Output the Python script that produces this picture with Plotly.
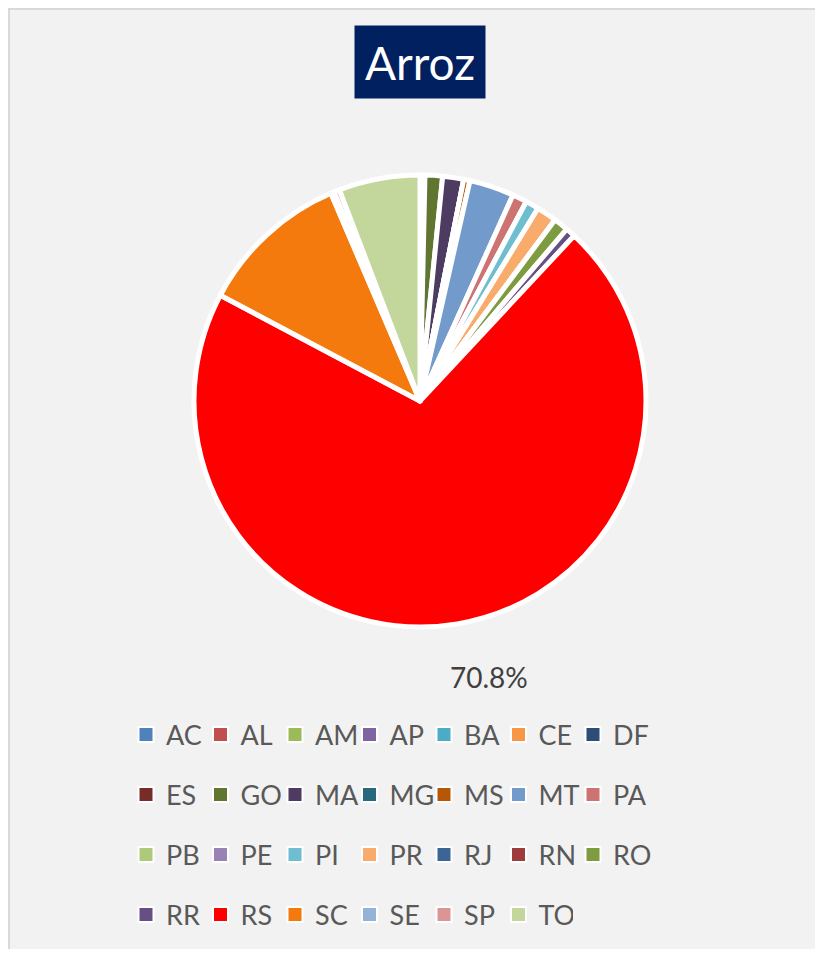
import plotly.graph_objects as go

states = ["AC", "AL", "AM", "AP", "BA", "CE", "DF",
          "ES", "GO", "MA", "MG", "MS", "MT", "PA",
          "PB", "PE", "PI", "PR", "RJ", "RN", "RO",
          "RR", "RS", "SC", "SE", "SP", "TO"]
shares = [0, 0, 0, 0, 0, 0, 0,
          0.35, 1.25, 1.5, 0, 0.45, 3.2, 1.05,
          0, 0, 0.95, 1.45, 0, 0, 1.05,
          0.7, 70.8, 10.8, 0.25, 0.4, 5.8]
colors = ["#4F81BD", "#C0504D", "#9BBB59", "#8064A2", "#4BACC6", "#F79646", "#2C4D75",
          "#772C2A", "#5F7530", "#4D3B62", "#276A7C", "#B65708", "#729ACA", "#CD7371",
          "#AFC97A", "#9983B5", "#6FBDD1", "#F9AB6B", "#3A6596", "#9D3C3A", "#7E9B40",
          "#664F82", "#FF0000", "#F47A0E", "#95B3D7", "#D99694", "#C3D69B"]
title_text = "Arroz"
labelled_state = "RS"

OFF = 8  # page body margin
W, H = 823 - OFF, 957 - 2 * OFF
FONT = "Lato"


def px(x):
    return (x - OFF) / W


def py(y):
    return 1 - (y - OFF) / H


fig = go.Figure()

# pie
cx, cy, r = 420, 401, 226
fig.add_trace(go.Pie(
    labels=states, values=shares, sort=False, direction="clockwise", rotation=0,
    marker=dict(colors=colors, line=dict(color="white", width=5)),
    textinfo="none", showlegend=False,
    domain=dict(x=[px(cx - r), px(cx + r)], y=[py(cy + r), py(cy - r)]),
))

# legend entries (4 rows of 7)
per_row = 7
legend_names = ["legend", "legend2", "legend3", "legend4"]
for i, (s, c) in enumerate(zip(states, colors)):
    last_col = (i % per_row) == per_row - 1
    fig.add_trace(go.Scatter(
        x=[None], y=[None], mode="markers", name=s,
        marker=dict(symbol="square", size=15, color=c, line=dict(color="white", width=2)),
        legend=legend_names[i // per_row], showlegend=True, hoverinfo="skip",
        legendwidth=50 if last_col else None,
    ))

row_y = [735, 795, 855, 915]
legend_common = dict(orientation="h", xanchor="left", yanchor="middle",
                     bgcolor="rgba(0,0,0,0)", font=dict(family=FONT, size=27, color="#595959"),
                     entrywidth=29.5, entrywidthmode="pixels", itemwidth=30)
lay = {}
for k, ln in enumerate(legend_names):
    lay[ln] = dict(legend_common, x=px(148 - 22), y=py(row_y[k]))

total = sum(shares)
pct = shares[states.index(labelled_state)] / total * 100

fig.update_layout(
    width=W, height=H,
    margin=dict(l=0, r=0, t=0, b=0),
    paper_bgcolor="#F2F2F2", plot_bgcolor="rgba(0,0,0,0)",
    xaxis=dict(visible=False), yaxis=dict(visible=False),
    shapes=[dict(type="rect", xref="paper", yref="paper", x0=1 / W, x1=1.02, y0=-0.02, y1=1 - 1 / H,
                 fillcolor="#F2F2F2", line=dict(color="#D9D9D9", width=2), layer="below")],
    annotations=[
        dict(text=title_text, x=px(420), y=py(62), xref="paper", yref="paper",
             showarrow=False, bgcolor="#002060", font=dict(family=FONT, size=46, color="white"),
             width=122, height=64, borderpad=4, xanchor="center", yanchor="middle"),
        dict(text=f"{pct:.1f}%", x=px(488.5), y=py(677), xref="paper", yref="paper",
             showarrow=False, font=dict(family=FONT, size=28, color="#404040"),
             xanchor="center", yanchor="middle"),
    ],
    **lay,
)

fig.write_html("out.html")
